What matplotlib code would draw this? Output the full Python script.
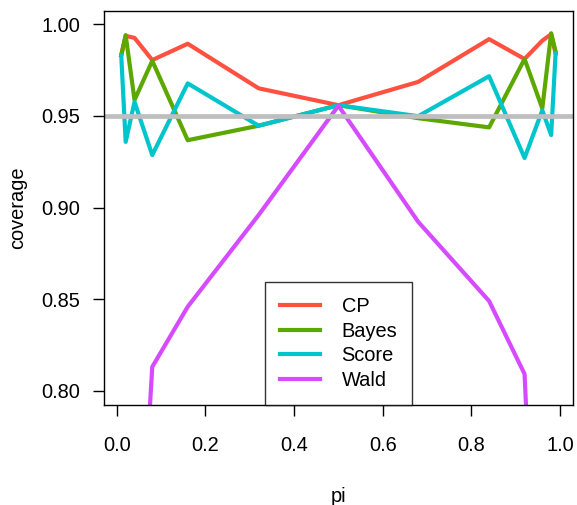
import matplotlib.pyplot as plt
import numpy as np

plt.rcParams['font.family'] = ['Liberation Sans', 'DejaVu Sans']

pi = [0.01, 0.02, 0.04, 0.08, 0.16, 0.32, 0.5, 0.68, 0.84, 0.92, 0.96, 0.98, 0.99]
cp = [0.983, 0.9936, 0.9925, 0.9804, 0.9893, 0.965, 0.9558, 0.9685, 0.9918, 0.981, 0.991, 0.9945, 0.984]
bayes = [0.983, 0.994, 0.9586, 0.980, 0.9367, 0.9446, 0.9558, 0.9487, 0.9437, 0.981, 0.954, 0.995, 0.985]
score = [0.983, 0.9358, 0.9576, 0.9286, 0.9677, 0.9446, 0.9558, 0.9498, 0.9716, 0.927, 0.953, 0.9395, 0.984]
wald = [0.10, 0.18, 0.65, 0.8131, 0.8459, 0.8959, 0.9555, 0.8922, 0.849, 0.8092, 0.60, 0.18, 0.10]

fig = plt.figure(figsize=(5.77, 5.05), dpi=100)
ax = fig.add_axes([0.180, 0.198, 0.813, 0.780])

ax.plot(pi, cp, color='#FF5040', lw=3.0, label='CP')
ax.plot(pi, bayes, color='#5DA800', lw=3.0, label='Bayes')
ax.plot(pi, score, color='#00C5CD', lw=3.0, label='Score')
ax.plot(pi, wald, color='#D64BFF', lw=3.0, label='Wald')
ax.axhline(0.95, color='#BEBEBE', lw=3.4)

ax.set_xlim(-0.0292, 1.0292)
ax.set_ylim(0.7923, 1.0071)
ax.set_xticks([0.0, 0.2, 0.4, 0.6, 0.8, 1.0])
ax.set_xticklabels(['0.0', '0.2', '0.4', '0.6', '0.8', '1.0'])
ax.set_yticks([0.80, 0.85, 0.90, 0.95, 1.00])
ax.set_yticklabels(['0.80', '0.85', '0.90', '0.95', '1.00'])
ax.tick_params(direction='out', length=8, width=1, labelsize=14.4, pad=9)
ax.tick_params(axis='x', pad=14)
for s in ax.spines.values():
    s.set_linewidth(1.0)

ax.set_xlabel('pi', fontsize=14.4, labelpad=23)
ax.set_ylabel('coverage', fontsize=14.4, labelpad=10)

leg = ax.legend(loc='lower center', fontsize=14.4, frameon=True, fancybox=False,
                edgecolor='black', handlelength=2.0, labelspacing=0.28,
                borderpad=0.75, borderaxespad=0.0, handletextpad=1.1)
leg.get_frame().set_linewidth(1.0)

plt.savefig('out.png', dpi=100)
